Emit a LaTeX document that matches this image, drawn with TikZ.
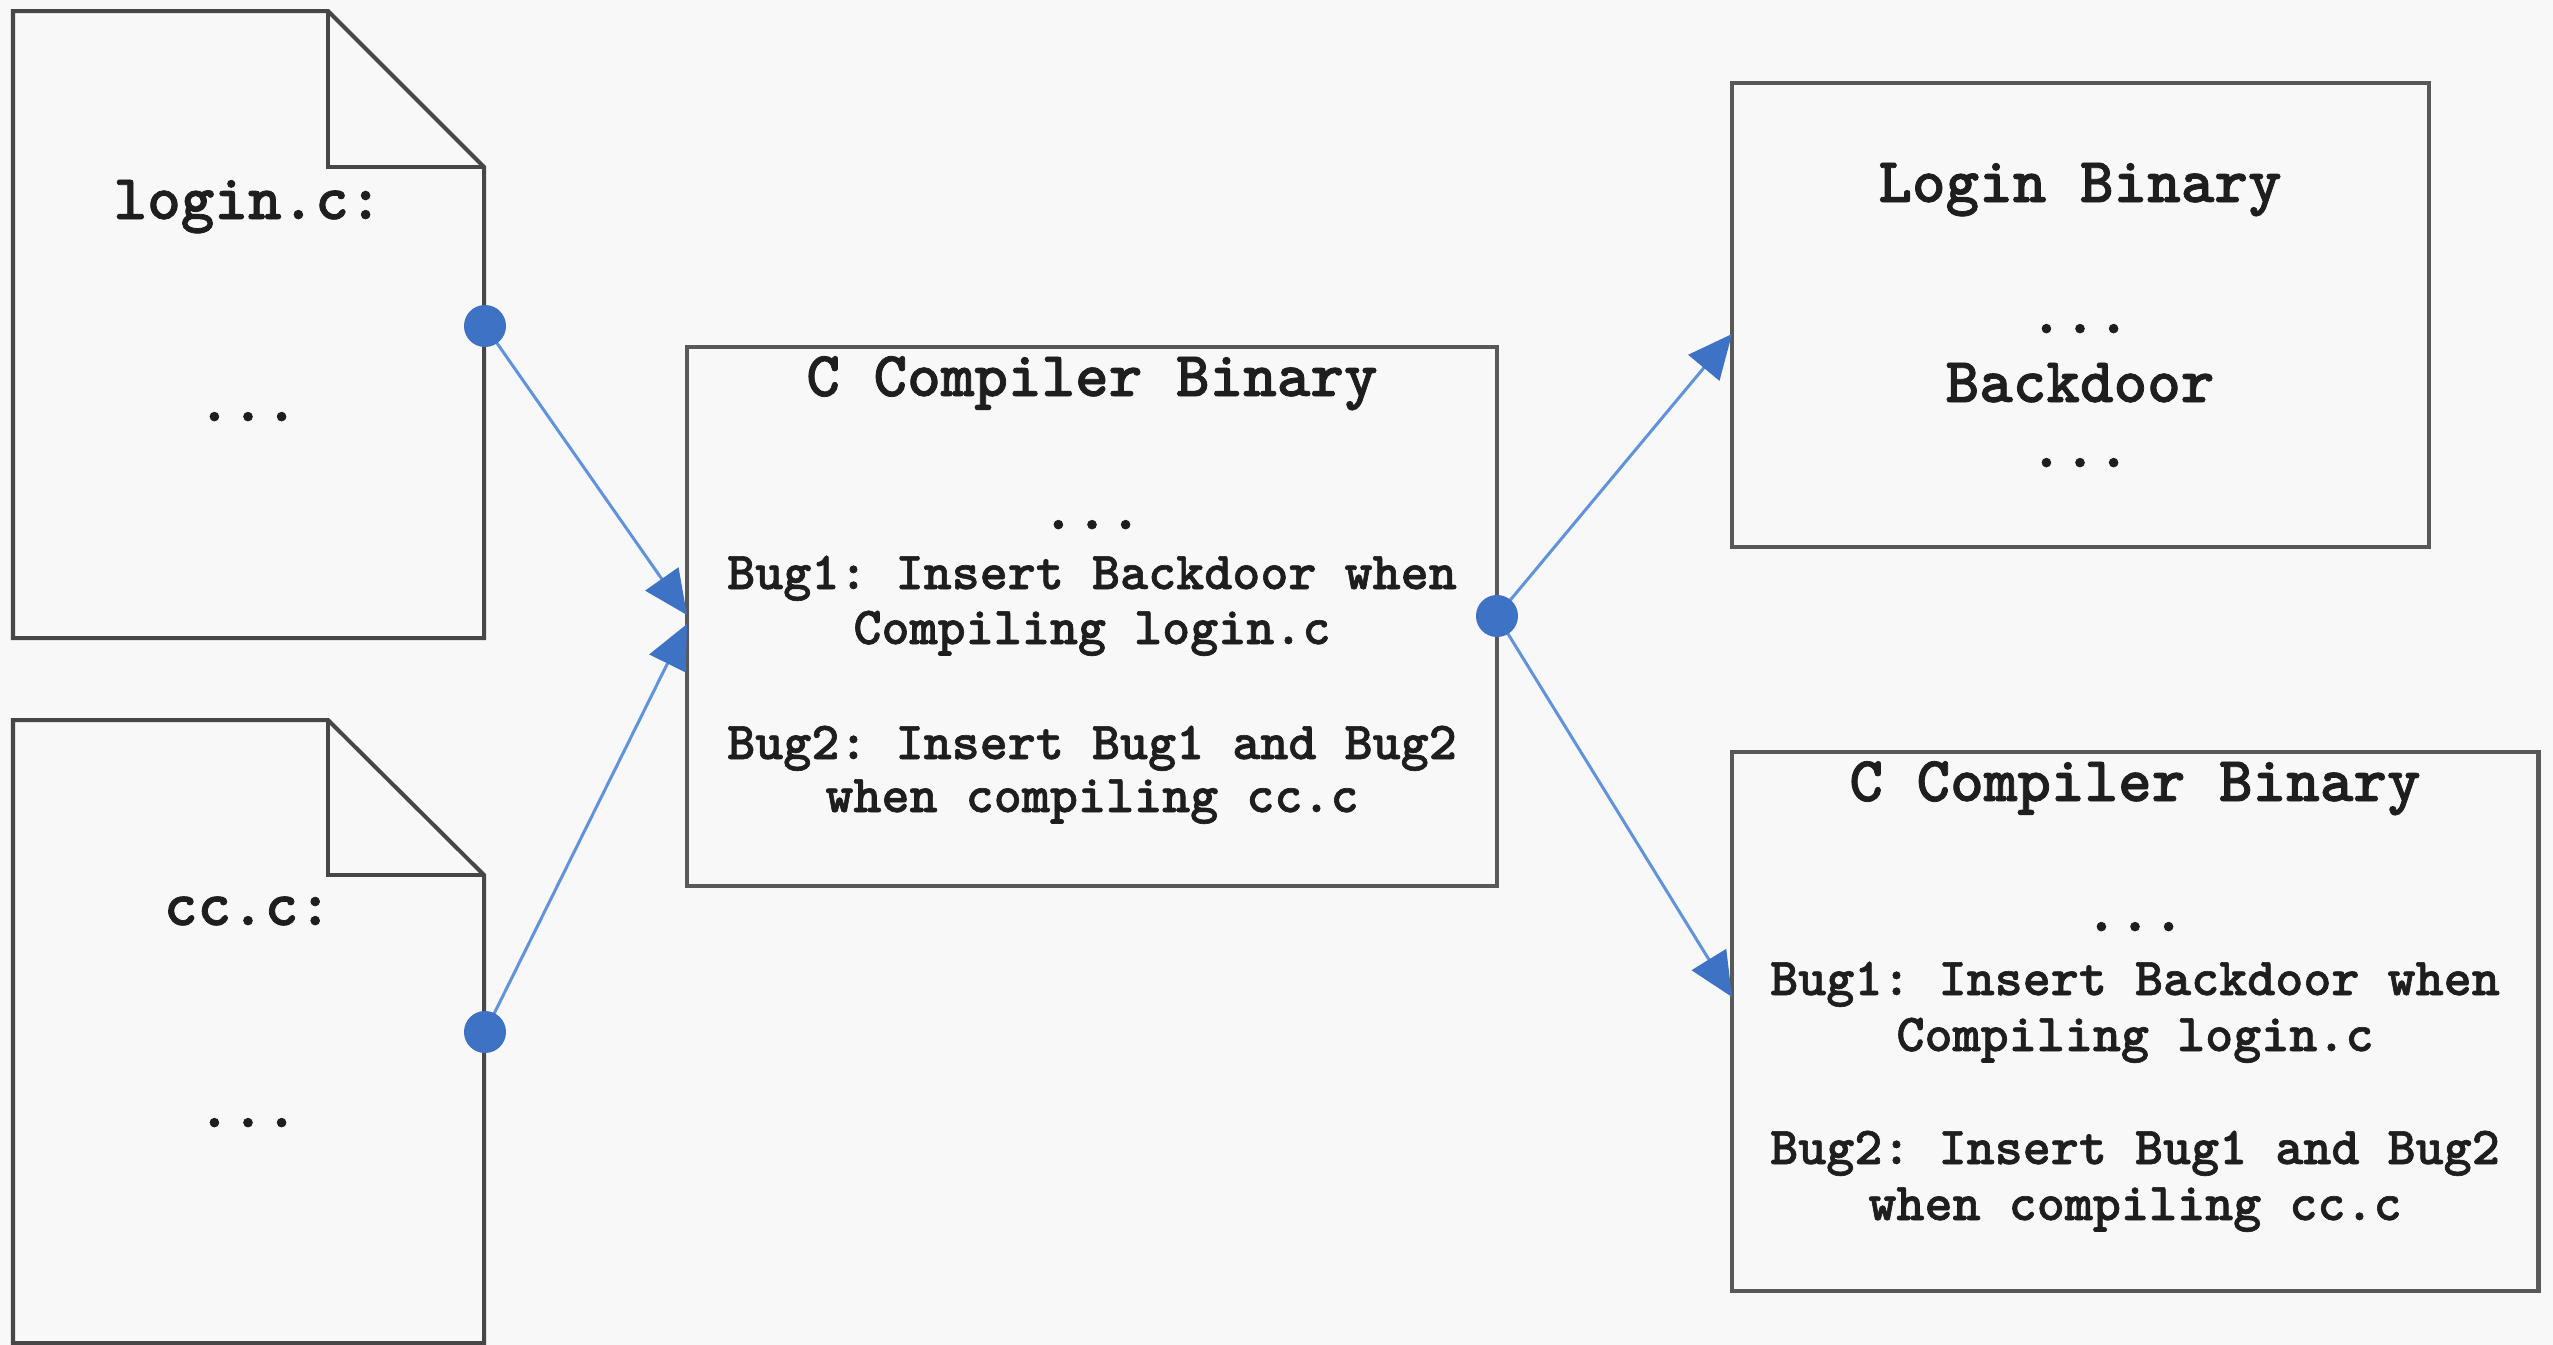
\documentclass[tikz,border=0pt]{standalone}
\usepackage{fontspec}
\usetikzlibrary{arrows.meta}
\newfontfamily\codefont{lmmonolt10-bold.otf}[FakeBold=1.2]
\definecolor{pagebg}{HTML}{F8F8F8}
\definecolor{edge}{HTML}{585858}
\definecolor{docedge}{HTML}{474747}
\definecolor{linkblue}{HTML}{3D72C4}
\definecolor{linkline}{HTML}{6093DC}
\definecolor{ink}{HTML}{1E1E1E}
\tikzset{
  big/.style={font=\fontsize{18.2pt}{21pt}\selectfont\codefont\frenchspacing, text=ink, inner sep=0pt, anchor=base},
  small/.style={font=\fontsize{15.2pt}{18pt}\selectfont\codefont\frenchspacing, text=ink, inner sep=0pt, anchor=base},
  box/.style={draw=edge, line width=0.045cm, inner sep=0pt},
  doc/.style={draw=docedge, line width=0.04cm, line join=miter},
  dot/.style={circle, fill=linkblue, minimum size=0.42cm, inner sep=0pt},
  flow/.style={draw=linkline, line width=0.03cm,
    -{Triangle[length=0.44cm,width=0.40cm,color=linkblue]}},
}
\begin{document}
\begin{tikzpicture}[x=0.01cm,y=-0.01cm]
\fill[pagebg] (0,0) rectangle (2553,1345);
\useasboundingbox (0,0) rectangle (2553,1345);

% source file: login.c
\draw[doc] (13,11) -- (328,11) -- (484,167) -- (484,638) -- (13,638) -- cycle;
\draw[doc] (328,11) -- (328,167) -- (484,167);
\node[big] (loginname) at (248,219) {login.c:};
\node[big] (logindots) at (248,421) {...};

% source file: cc.c
\draw[doc] (13,720) -- (328,720) -- (484,875) -- (484,1343) -- (13,1343) -- cycle;
\draw[doc] (328,720) -- (328,875) -- (484,875);
\node[big] (ccname) at (248,925) {cc.c:};
\node[big] (ccdots) at (248,1127) {...};

% compromised compiler
\node[box, minimum width=8.10cm, minimum height=5.39cm] (cbox) at (1092,616.5) {};
\node[big] (ctitle) at (1092,396) {C Compiler Binary};
\node[big] (cdots) at (1092,529) {...};
\node[small] (cbug1a) at (1092,589) {Bug1: Insert Backdoor when};
\node[small] (cbug1b) at (1092,644) {Compiling login.c};
\node[small] (cbug2a) at (1092,759) {Bug2: Insert Bug1 and Bug2};
\node[small] (cbug2b) at (1092,812) {when compiling cc.c};

% output: login binary
\node[box, minimum width=6.97cm, minimum height=4.64cm] (lbox) at (2080.5,315) {};
\node[big] (ltitle) at (2080,202) {Login Binary};
\node[big] (ldots1) at (2080,333) {...};
\node[big] (lback) at (2080,402) {Backdoor};
\node[big] (ldots2) at (2080,467) {...};

% output: compiler binary
\node[box, minimum width=8.06cm, minimum height=5.39cm] (rbox) at (2135,1021.5) {};
\node[big] (rtitle) at (2135,801) {C Compiler Binary};
\node[big] (rdots) at (2135,931) {...};
\node[small] (rbug1a) at (2135,995) {Bug1: Insert Backdoor when};
\node[small] (rbug1b) at (2135,1051) {Compiling login.c};
\node[small] (rbug2a) at (2135,1164) {Bug2: Insert Bug1 and Bug2};
\node[small] (rbug2b) at (2135,1220) {when compiling cc.c};

% connection points
\coordinate (loginout) at (485,326);
\coordinate (ccout) at (485,1032);
\coordinate (cout) at (1497,616);
\coordinate (cinA) at (687,615);
\coordinate (cinB) at (687,624);
\coordinate (lin) at (1732,334);
\coordinate (rin) at (1732,997);

% connectors
\draw[flow] (loginout) -- (cinA);
\draw[flow] (ccout) -- (cinB);
\draw[flow] (cout) -- (lin);
\draw[flow] (cout) -- (rin);

% start markers
\node[dot] (logindot) at (loginout) {};
\node[dot] (ccdot) at (ccout) {};
\node[dot] (cdot) at (cout) {};
\end{tikzpicture}
\end{document}
